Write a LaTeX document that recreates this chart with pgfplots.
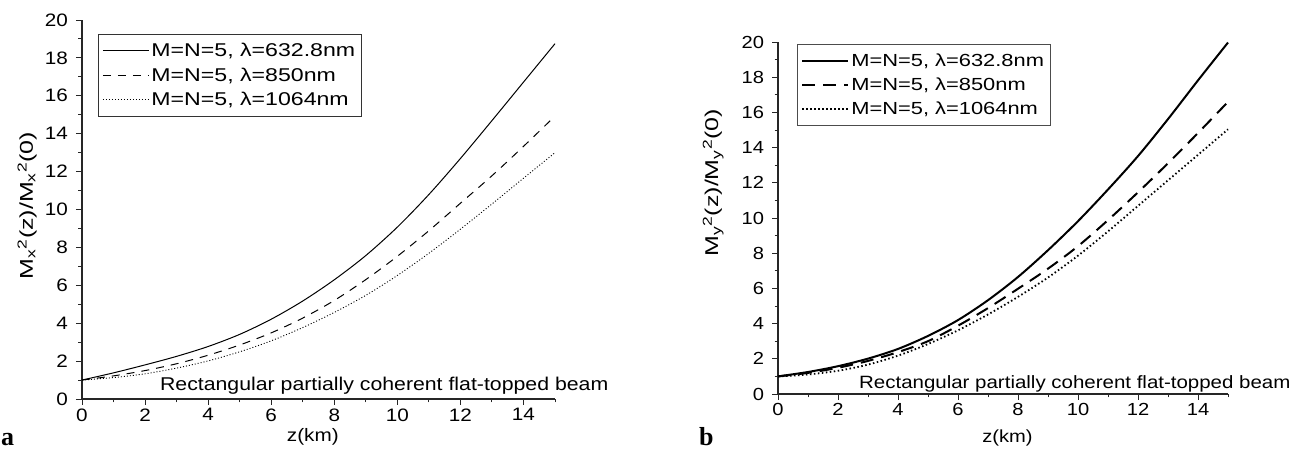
\documentclass[border=0pt]{standalone}
\usepackage{fontspec}
\setmainfont{Liberation Sans}
\newfontfamily\panelfont{Liberation Serif}
\usepackage{graphicx}
\usepackage{pgfplots}
\pgfplotsset{compat=1.18}
\newcommand{\W}[1]{\scalebox{1.15}[1]{#1}}
\newcommand{\WL}[1]{\scalebox{1.25}[1]{#1}}

\pgfplotsset{
  base/.style={
    scale only axis,
    axis x line*=bottom, axis y line*=left,
    axis line style={-, line width=1.1pt, black!85},
    xmin=0, xmax=15, ymin=0, ymax=20,
    xtick={0,2,...,14}, ytick={0,2,...,20},
    minor xtick={1,3,...,15}, minor ytick={1,3,...,19},
    tick align=outside,
    major tick length=6pt, minor tick length=3.5pt,
    every tick/.style={black!85, line width=0.9pt},
    /pgf/number format/assume math mode=true,
    xticklabel={\W{\pgfmathprintnumber{\tick}}},
    yticklabel={\W{\pgfmathprintnumber{\tick}}},
    yticklabel style={xshift=-4.5pt},
    clip=false,
    legend cell align=left,
    legend image code/.code={\draw[#1] (0pt,0pt) -- (46pt,0pt);},
  },
}

\begin{document}
\begin{tikzpicture}[x=1pt,y=1pt]
\useasboundingbox (0,0) rectangle (1293,457);

% ---------------- panel a ----------------
\begin{axis}[base,
  at={(82pt,58pt)}, anchor=south west,
  width=473pt, height=379pt,
  ticklabel style={font=\fontsize{18}{21}\selectfont},
  legend style={at={(axis description cs:0.034,0.963)}, anchor=north west,
    draw=black!80, line width=0.8pt, font=\fontsize{18.5}{21}\selectfont,
    row sep=5.5pt, inner ysep=7pt, inner xsep=4pt},
]
\addplot[black, line width=1pt, smooth] coordinates {
(0,1.0)(1,1.38)(2,1.80)(3,2.25)(4,2.77)(5,3.41)(6,4.21)(7,5.17)(8,6.29)(9,7.57)(10,9.07)(11,10.79)(12,12.69)(13,14.69)(14,16.72)(15,18.75)};
\addlegendentry{\WL{M=N=5, λ=632.8nm}}
\addplot[black, line width=1pt, dash pattern=on 8pt off 7pt, smooth] coordinates {
(0,1.0)(1,1.22)(2,1.5)(3,1.86)(4,2.31)(5,2.85)(6,3.49)(7,4.27)(8,5.2)(9,6.3)(10,7.53)(11,8.88)(12,10.33)(13,11.78)(14,13.33)(15,14.93)};
\addlegendentry{\WL{M=N=5, λ=850nm}}
\addplot[black, line width=0.9pt, dash pattern=on 1pt off 2pt, smooth] coordinates {
(0,1.0)(1,1.13)(2,1.33)(3,1.63)(4,2.01)(5,2.49)(6,3.07)(7,3.77)(8,4.57)(9,5.47)(10,6.52)(11,7.69)(12,8.96)(13,10.29)(14,11.65)(15,13.0)};
\addlegendentry{\WL{M=N=5, λ=1064nm}}
\node[anchor=base west, font=\fontsize{18.5}{21}\selectfont, inner sep=0pt] at (axis cs:2.47,0.45) {\W{Rectangular partially coherent flat-topped beam}};
\node[font=\fontsize{18}{21}\selectfont, inner sep=0pt, anchor=center] at (rel axis cs:0.488,-0.1) {\W{z(km)}};
\node[font=\fontsize{18.5}{21}\selectfont, inner sep=0pt, anchor=center, rotate=90] at (rel axis cs:-0.116,0.51) {\scalebox{1.35}[1]{M\textsubscript{x}\textsuperscript{2}(z)/M\textsubscript{x}\textsuperscript{2}(0)}};
\end{axis}

% ---------------- panel b ----------------
\begin{axis}[base,
  at={(778pt,63pt)}, anchor=south west,
  width=450pt, height=352pt,
  ticklabel style={font=\fontsize{17.5}{20}\selectfont},
  legend style={at={(axis description cs:0.042,0.995)}, anchor=north west,
    draw=black!70, line width=0.8pt, font=\fontsize{17.5}{20}\selectfont,
    row sep=5.5pt, inner ysep=8pt, inner xsep=4pt},
]
\addplot[black, line width=2pt, smooth] coordinates {
(0,1.0)(1,1.25)(2,1.58)(3,2.01)(4,2.56)(5,3.3)(6,4.2)(7,5.33)(8,6.65)(9,8.17)(10,9.82)(11,11.62)(12,13.52)(13,15.62)(14,17.82)(15,19.97)};
\addlegendentry{\WL{M=N=5, λ=632.8nm}}
\addplot[black, line width=2pt, dash pattern=on 13pt off 8pt, smooth] coordinates {
(0,1.0)(1,1.2)(2,1.49)(3,1.88)(4,2.38)(5,3.0)(6,3.88)(7,4.88)(8,5.98)(9,7.12)(10,8.4)(11,9.88)(12,11.46)(13,13.11)(14,14.83)(15,16.6)};
\addlegendentry{\WL{M=N=5, λ=850nm}}
\addplot[black, line width=1.8pt, dash pattern=on 1.5pt off 2.5pt, smooth] coordinates {
(0,1.0)(1,1.11)(2,1.32)(3,1.67)(4,2.18)(5,2.84)(6,3.62)(7,4.52)(8,5.52)(9,6.62)(10,7.86)(11,9.24)(12,10.69)(13,12.14)(14,13.59)(15,15.04)};
\addlegendentry{\WL{M=N=5, λ=1064nm}}
\node[anchor=base west, font=\fontsize{17.8}{20}\selectfont, inner sep=0pt] at (axis cs:2.7,0.33) {\W{Rectangular partially coherent flat-topped beam}};
\node[font=\fontsize{17.5}{20}\selectfont, inner sep=0pt, anchor=center] at (rel axis cs:0.51,-0.125) {\W{z(km)}};
\node[font=\fontsize{18.5}{21}\selectfont, inner sep=0pt, anchor=center, rotate=90] at (rel axis cs:-0.144,0.6) {\scalebox{1.35}[1]{M\textsubscript{y}\textsuperscript{2}(z)/M\textsubscript{y}\textsuperscript{2}(0)}};
\end{axis}

\node[anchor=base west, inner sep=0pt, font=\panelfont\bfseries\fontsize{26}{28}\selectfont] at (1,11) {a};
\node[anchor=base west, inner sep=0pt, font=\panelfont\bfseries\fontsize{26}{28}\selectfont] at (699,11) {b};
\end{tikzpicture}
\end{document}
